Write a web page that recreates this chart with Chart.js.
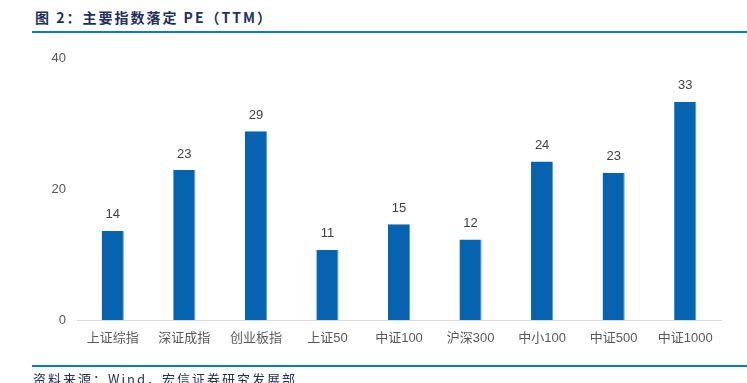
<!DOCTYPE html>
<html>
<head>
<meta charset="utf-8">
<script src="https://cdn.jsdelivr.net/npm/chart.js@4.4.1/dist/chart.umd.min.js"></script>
<style>
    html, body { margin: 0; padding: 0; background: #fff; }
    #page { position: relative; width: 747px; height: 383px; overflow: hidden; }
    #title {
        position: absolute; left: 35px; top: 7px;
        font: bold 14px "Noto Sans CJK SC", "DejaVu Sans", sans-serif;
        letter-spacing: 2px; color: #22305e; white-space: nowrap;
    }
    .rule { position: absolute; left: 32px; right: 0; height: 2px; background: #0a7acc; }
    #source {
        position: absolute; left: 33px; top: 369px;
        font: 13px "Noto Sans CJK SC", "DejaVu Sans", sans-serif;
        letter-spacing: 2px; color: #22305e; white-space: nowrap;
    }
    #chartBox { position: absolute; left: 0; top: 0; width: 747px; height: 383px; }
</style>
</head>
<body>
<div id="page">
    <div id="title">图 2：主要指数落定 PE（TTM）</div>
    <div class="rule" style="top:31px"></div>
    <div id="chartBox"><canvas id="peChart"></canvas></div>
    <div class="rule" style="top:365px"></div>
    <div id="source">资料来源：Wind，宏信证券研究发展部</div>
</div>
<script>
"use strict";

// index names and PE (TTM) values
var indexNames = ['上证综指', '深证成指', '创业板指', '上证50', '中证100', '沪深300', '中小100', '中证500', '中证1000'];
var peValues = [13.6, 22.9, 28.8, 10.7, 14.6, 12.3, 24.2, 22.5, 33.3];
var yTicks = [0, 20, 40];

var labelFont = '"Liberation Sans", "Noto Sans CJK SC", sans-serif';

/*
 * Draw the rounded value above each bar
 */
var barValues = {
    id: 'barValues',
    afterDatasetsDraw: function (chart) {
        var ctx = chart.ctx;
        var meta = chart.getDatasetMeta(0);
        ctx.save();
        ctx.font = '13px ' + labelFont;
        ctx.fillStyle = '#404040';
        ctx.textAlign = 'center';
        ctx.textBaseline = 'middle';
        meta.data.forEach(function (bar, i) {
            ctx.fillText(Math.round(peValues[i]), bar.x, bar.y - 16);
        });
        ctx.restore();
    }
};

new Chart(document.getElementById('peChart'), {
    type: 'bar',
    data: {
        labels: indexNames,
        datasets: [{
            data: peValues,
            backgroundColor: '#0563af',
            borderColor: '#5b9bd5',
            borderWidth: {left: 0, top: 0, bottom: 0, right: 1},
            barPercentage: 0.31,
            categoryPercentage: 1
        }]
    },
    options: {
        responsive: true,
        maintainAspectRatio: false,
        animation: false,
        layout: {padding: {left: 0, right: 26, top: 58, bottom: 33}},
        plugins: {legend: {display: false}, tooltip: {enabled: false}},
        scales: {
            x: {
                grid: {display: false, drawTicks: false},
                border: {display: true, color: '#d9d9d9', width: 1},
                ticks: {
                    color: '#595959', padding: 11, maxRotation: 0, autoSkip: false,
                    font: {size: 13, family: labelFont}
                },
                afterFit: function (scale) { scale.height = 30; }
            },
            y: {
                min: 0, max: 40,
                afterBuildTicks: function (scale) {
                    scale.ticks = yTicks.map(function (v) { return {value: v}; });
                },
                grid: {display: false, drawTicks: false},
                border: {display: false},
                ticks: {
                    color: '#595959', padding: 11,
                    font: {size: 13, family: labelFont}
                },
                afterFit: function (scale) { scale.width = 77; }
            }
        }
    },
    plugins: [barValues]
});
</script>
</body>
</html>
